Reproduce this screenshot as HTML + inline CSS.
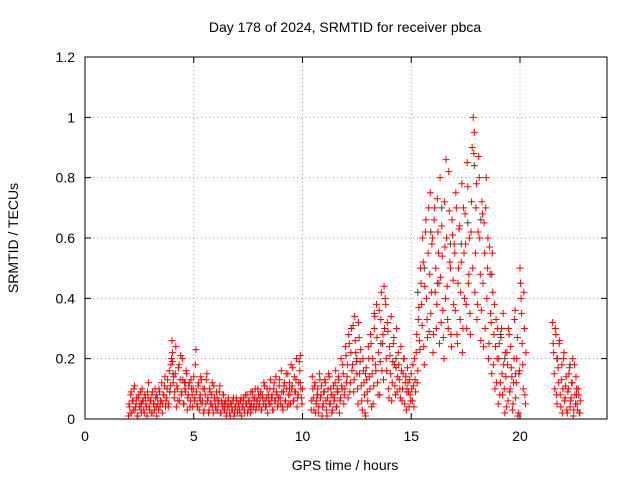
<!DOCTYPE html>
<html><head><meta charset="utf-8"><style>
html,body{margin:0;padding:0;background:#fff;}
svg{display:block;font-family:"Liberation Sans",sans-serif;}
</style></head><body>
<svg id="chart" width="640" height="480" viewBox="0 0 640 480" xmlns="http://www.w3.org/2000/svg">
<rect width="640" height="480" fill="#fff"/>
<text x="345" y="32" text-anchor="middle" font-size="14">Day 178 of 2024, SRMTID for receiver pbca</text>
<g id="grid"></g>
<g id="axes"></g>
<g id="marks"></g>
<rect x="85" y="57" width="522" height="362" fill="none" stroke="#000" stroke-width="1"/>
<text x="345" y="470" text-anchor="middle" font-size="14">GPS time / hours</text>
<text x="18" y="238" text-anchor="middle" font-size="14" transform="rotate(-90 18 238)">SRMTID / TECUs</text>
</svg>
<script>
const xTicks = [0,5,10,15,20];
const yTicks = [0,0.2,0.4,0.6,0.8,1,1.2];
const yTickLabels = ["0","0.2","0.4","0.6","0.8","1","1.2"];
const redSeries = [
[2.0,.01],[2.05,.04],[2.1,.08],[2.15,.02],[2.2,.06],[2.25,.1],[2.3,.03],[2.35,.05],[2.4,.01],[2.45,.07],[2.5,.04],[2.55,.09],[2.6,.02],[2.65,.06],[2.7,.03],[2.75,.08],[2.8,.05],[2.85,.01],[2.9,.07],[2.95,.04],[3.0,.06],[3.05,.02],[3.1,.09],[3.15,.05],[3.2,.03],[3.25,.07],[3.3,.01],[3.35,.05],[3.4,.1],[3.45,.04],[3.5,.06],[3.55,.02],[3.6,.08],[3.65,.11],[3.7,.04],[3.75,.07],[3.8,.13],[3.85,.05],[3.9,.09],[3.95,.18],[4.0,.26],[4.02,.22],[4.05,.12],[4.1,.07],[4.15,.15],[4.2,.04],[4.25,.1],[4.3,.17],[4.35,.06],[4.4,.21],[4.45,.09],[4.5,.13],[4.55,.05],[4.6,.1],[4.65,.16],[4.7,.03],[4.75,.08],[4.8,.12],[4.85,.06],[4.9,.1],[4.95,.04],[5.0,.14],[5.05,.07],[5.1,.23],[5.15,.05],[5.2,.11],[5.25,.03],[5.3,.08],[5.35,.13],[5.4,.06],[5.45,.02],[5.5,.1],[5.55,.05],[5.6,.15],[5.65,.07],[5.7,.03],[5.75,.09],[5.8,.05],[5.85,.12],[5.9,.02],[5.95,.07],[6.0,.04],[6.05,.09],[6.1,.03],[6.15,.06],[6.2,.11],[6.25,.02],[6.3,.05],[6.35,.08],[6.4,.03],[6.45,.06],[6.5,.01],[6.55,.04],[6.6,.07],[6.65,.02],[6.7,.05],[6.75,.03],[6.8,.06],[6.85,.01],[6.9,.04],[6.95,.07],[7.0,.02],[7.05,.05],[7.1,.03],[7.15,.06],[7.2,.01],[7.25,.04],[7.3,.07],[7.35,.02],[7.4,.05],[7.45,.08],[7.5,.03],[7.55,.06],[7.6,.02],[7.65,.05],[7.7,.09],[7.75,.04],[7.8,.07],[7.85,.03],[7.9,.06],[7.95,.1],[8.0,.04],[8.05,.07],[8.1,.03],[8.15,.08],[8.2,.05],[8.25,.11],[8.3,.04],[8.35,.07],[8.4,.02],[8.45,.06],[8.5,.1],[8.55,.05],[8.6,.08],[8.65,.03],[8.7,.12],[8.75,.06],[8.8,.09],[8.85,.04],[8.9,.07],[8.95,.13],[9.0,.05],[9.05,.09],[9.1,.03],[9.15,.11],[9.2,.06],[9.25,.15],[9.3,.04],[9.35,.08],[9.4,.12],[9.45,.05],[9.5,.1],[9.55,.17],[9.6,.06],[9.65,.09],[9.7,.13],[9.75,.04],[9.8,.08],[9.85,.19],[9.9,.21],[9.95,.07],[10.0,.1],
[10.4,.03],[10.45,.14],[10.5,.07],[10.55,.11],[10.6,.02],[10.65,.06],[10.7,.1],[10.75,.04],[10.8,.13],[10.85,.08],[10.9,.01],[10.95,.05],[11.0,.09],[11.05,.12],[11.1,.03],[11.15,.07],[11.2,.15],[11.25,.05],[11.3,.1],[11.35,.02],[11.4,.08],[11.45,.06],[11.5,.12],[11.55,.04],[11.6,.09],[11.65,.14],[11.7,.02],[11.75,.07],[11.8,.11],[11.85,.18],[11.9,.05],[11.95,.1],[12.0,.21],[12.05,.14],[12.1,.07],[12.15,.25],[12.2,.12],[12.25,.3],[12.3,.18],[12.35,.09],[12.4,.34],[12.45,.22],[12.5,.15],[12.55,.05],[12.6,.27],[12.65,.19],[12.7,.11],[12.75,.03],[12.8,.16],[12.85,.08],[12.9,.01],[12.95,.13],[13.0,.06],[13.05,.2],[13.1,.1],[13.15,.25],[13.2,.15],[13.25,.05],[13.3,.3],[13.35,.18],[13.4,.38],[13.45,.12],[13.5,.22],[13.55,.08],[13.6,.33],[13.65,.16],[13.7,.28],[13.75,.44],[13.8,.4],[13.85,.2],[13.9,.32],[13.95,.1],[14.0,.24],[14.05,.15],[14.1,.06],[14.15,.19],[14.2,.27],[14.25,.11],[14.3,.17],[14.35,.09],[14.4,.22],[14.45,.13],[14.5,.07],[14.55,.16],[14.6,.1],[14.65,.2],[14.7,.05],[14.75,.14],[14.8,.09],[14.85,.12],[14.9,.04],[14.95,.08],[15.0,.15],[15.05,.06],[15.1,.11],[15.15,.2],[15.2,.09],[15.25,.28],[15.3,.16],[15.35,.37],[15.4,.23],[15.45,.45],[15.5,.31],[15.55,.52],[15.6,.18],[15.65,.62],[15.7,.4],[15.75,.27],[15.8,.7],[15.85,.48],[15.9,.35],[15.95,.58],[16.0,.22],[16.05,.66],[16.1,.42],[16.15,.3],[16.2,.73],[16.25,.55],[16.3,.25],[16.35,.47],[16.4,.64],[16.45,.36],[16.5,.2],[16.55,.57],[16.6,.86],[16.65,.44],[16.7,.3],[16.75,.69],[16.8,.5],[16.85,.24],[16.9,.61],[16.95,.38],[17.0,.55],[17.05,.75],[17.1,.28],[17.15,.45],[17.2,.63],[17.25,.33],[17.3,.52],[17.35,.22],[17.4,.7],[17.45,.4],[17.5,.58],[17.55,.3],[17.6,.77],[17.65,.48],[17.7,.35],[17.75,.62],[17.8,.9],[17.85,1.0],[17.9,.95],[17.95,.55],[18.0,.78],[18.05,.38],[18.1,.87],[18.15,.6],[18.2,.26],[18.25,.72],[18.3,.45],[18.35,.65],[18.4,.3],[18.45,.8],[18.5,.5],[18.55,.2],[18.6,.57],[18.65,.35],[18.7,.15],[18.75,.42],[18.8,.28],[18.85,.1],[18.9,.33],[18.95,.2],[19.0,.05],[19.05,.25],[19.1,.12],[19.15,.3],[19.2,.08],[19.25,.18],[19.3,.02],[19.35,.14],[19.4,.22],[19.45,.06],[19.5,.28],[19.55,.1],[19.6,.17],[19.65,.03],[19.7,.12],[19.75,.33],[19.8,.07],[19.85,.2],[19.9,.01],[19.95,.15],[20.0,.5],[20.05,.4],[20.1,.25],[20.15,.1],[20.2,.3],[20.25,.05],
[21.5,.32],[21.55,.22],[21.6,.1],[21.65,.28],[21.7,.05],[21.75,.17],[21.8,.25],[21.85,.08],[21.9,.13],[21.95,.02],[22.0,.2],[22.05,.06],[22.1,.11],[22.15,.03],[22.2,.09],[22.25,.15],[22.3,.04],[22.35,.07],[22.4,.12],[22.45,.01],[22.5,.18],[22.55,.05],[22.6,.1],[22.65,.03],[22.7,.08],[22.75,.02]
];
// additional regularly sampled red measurements (sample interval 0.05 h)
const extraStep = 0.05;
const extraAStart = 2.025;
const extraAValues = [.05,.02,.09,.06,.03,.11,.04,.07,.01,.08,.05,.03,.1,.06,.02,.07,.04,.09,.12,.03,.06,.08,.02,.05,.1,.04,.07,.03,.09,.06,.12,.05,.08,.14,.06,.1,.04,.16,.11,.2,
.19,.14,.09,.24,.11,.06,.18,.13,.08,.2,.05,.12,.09,.15,.07,.11,.04,.13,.08,.1,.06,.18,.09,.04,.12,.07,.14,.05,.1,.03,.08,.13,.06,.02,.1,.05,.08,.04,.11,.06,
.03,.07,.05,.09,.02,.06,.04,.08,.03,.05,.02,.06,.04,.01,.05,.03,.07,.02,.04,.06,.03,.05,.02,.07,.04,.06,.03,.08,.05,.02,.06,.04,.09,.03,.07,.05,.1,.04,.06,.08,
.05,.09,.03,.07,.12,.06,.04,.1,.08,.05,.13,.07,.03,.1,.06,.14,.08,.05,.11,.07,.16,.04,.09,.12,.06,.1,.15,.05,.08,.18,.11,.06,.14,.09,.2,.07,.12,.16,.1,.05];
const extraBStart = 10.425;
const extraBValues = [.06,.1,.03,.12,.05,.08,.02,.15,.07,.11,.04,.09,.13,.06,.01,.1,.14,.05,.08,.03,
.11,.07,.16,.04,.09,.13,.06,.2,.1,.15,.08,.24,.12,.18,.28,.09,.22,.16,.31,.13,
.26,.19,.1,.32,.15,.23,.06,.2,.12,.02,.17,.09,.24,.14,.28,.04,.2,.11,.34,.16,
.27,.08,.36,.19,.42,.25,.13,.3,.38,.16,.29,.07,.21,.34,.12,.25,.18,.08,.3,.14,
.18,.1,.24,.06,.15,.2,.12,.03,.17,.09,.13,.06,.1,.18,.04,.13,.22,.12,.33,.26,
.5,.38,.6,.24,.44,.66,.33,.55,.29,.75,.42,.6,.28,.7,.5,.38,.62,.45,.8,.32,
.54,.27,.72,.4,.6,.33,.82,.52,.28,.66,.46,.58,.36,.7,.25,.5,.64,.42,.78,.3,
.55,.68,.38,.85,.45,.6,.28,.72,.5,.88,.42,.7,.33,.62,.8,.48,.36,.68,.24,.55,
.7,.4,.6,.25,.48,.32,.55,.18,.38,.24,.12,.3,.2,.08,.27,.15,.35,.1,.22,.04,
.18,.3,.09,.24,.14,.05,.2,.36,.12,.27,.02,.16,.45,.35,.18,.42,.08,.22];
const extraCStart = 21.525;
const extraCValues = [.25,.15,.3,.08,.2,.12,.26,.04,.18,.1,.22,.07,.14,.02,.1,.17,.06,.12,.2,.03,.08,.14,.05,.1,.02,.06];
const graySeries = [
[2.6,.05],[3.3,.08],[3.9,.09],[4.05,.15],[4.6,.12],[5.3,.06],[6.4,.05],[7.6,.04],[8.6,.07],[9.4,.1],[9.9,.12],[10.7,.08],[11.6,.1],[12.5,.2],[12.9,.15],[13.3,.35],[13.6,.25],[14.3,.2],[14.8,.1],[15.3,.42],[15.6,.5],[15.9,.62],[16.2,.45],[16.4,.7],[16.8,.58],[17.3,.58],[17.6,.65],[17.9,.84],[18.2,.66],[18.7,.48],[19.1,.28],[19.3,.2],[19.8,.15],[21.7,.2],[22.3,.18],[22.6,.08]
];
const NS='http://www.w3.org/2000/svg';
const X0=85,X1=607,Y0=419,Y1=57,XMAX=24,YMAX=1.2;
function xs(v){return X0+(v/XMAX)*(X1-X0);}
function ys(v){return Y0-(v/YMAX)*(Y0-Y1);}
const grid=document.getElementById('grid'),axes=document.getElementById('axes'),marks=document.getElementById('marks');
function mk(tag,attrs,parent){const e=document.createElementNS(NS,tag);for(const k in attrs)e.setAttribute(k,attrs[k]);parent.appendChild(e);return e;}
xTicks.forEach(t=>{
  const x=xs(t);
  if(t>0){const g=mk('line',{x1:x,y1:Y0,x2:x,y2:Y1,stroke:'#a0a0a0','stroke-dasharray':'1,3'},grid);
  
  }
  const tk=mk('path',{d:`M${x},${Y0}v-6M${x},${Y1}v6`,stroke:'#000'},axes);
  
  
  const lb=mk('text',{x:x,y:Y0+22,'text-anchor':'middle','font-size':14},axes);
  
  
  lb.textContent=String(t);
});
yTicks.forEach((t,i)=>{
  const y=ys(t);
  if(t>0&&t<YMAX){const g=mk('line',{x1:X0,y1:y,x2:X1,y2:y,stroke:'#a0a0a0','stroke-dasharray':'1,3'},grid);
  
  }
  const tk=mk('path',{d:`M${X0},${y}h6M${X1},${y}h-6`,stroke:'#000'},axes);
  
  
  const lb=mk('text',{x:X0-10,y:y+5,'text-anchor':'end','font-size':14},axes);
  
  
  lb.textContent=yTickLabels[i];
});
function plus(t,v,color,name){
  const x=xs(t),y=ys(v);
  const e=mk('path',{d:`M${x-3.5},${y}h7M${x},${y-3.5}v7`,stroke:color,'stroke-width':1,fill:'none'},marks);
  
  
}
graySeries.forEach(p=>plus(p[0],p[1],'#404040','gray-point'));
redSeries.forEach(p=>plus(p[0],p[1],'#ff0000','red-point'));
[[extraAStart,extraAValues],[extraBStart,extraBValues],[extraCStart,extraCValues]].forEach(seg=>{
  seg[1].forEach((v,i)=>plus(seg[0]+i*extraStep,v,'#ff0000','red-point'));
});
</script>
</body></html>
